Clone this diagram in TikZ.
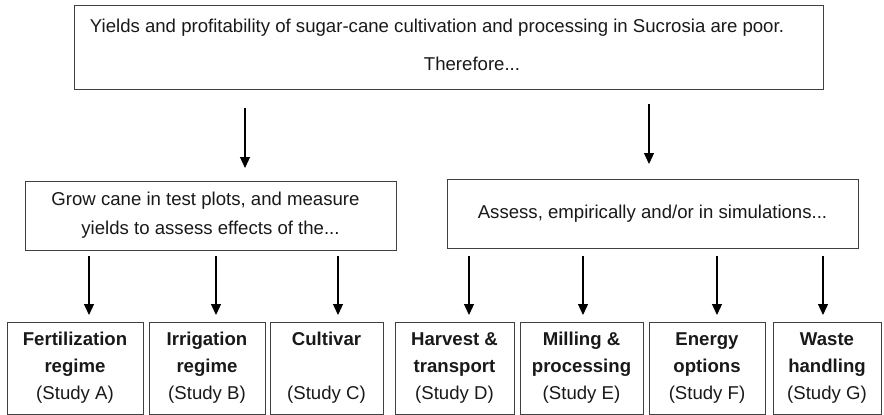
\documentclass[tikz,border=0pt]{standalone}
\usepackage{fontspec}
\setmainfont{Liberation Sans}
\usetikzlibrary{arrows.meta, calc, positioning}
\definecolor{boxgrey}{rgb}{0.25, 0.25, 0.25}
\definecolor{textgrey}{rgb}{0.1, 0.1, 0.1}

\begin{document}
\begin{tikzpicture}[
	x=1pt, y=-1pt,
	texts/.style = {text=textgrey, font=\fontsize{18.6}{27}\selectfont},
	boxline/.style = {draw=boxgrey, line width=1pt},
	stepbox/.style = {texts, boxline, rectangle, inner sep=0pt, outer sep=0pt, align=center},
	studybox/.style = {stepbox, minimum width=#1, minimum height=92pt},
	arrowline/.style = {draw=black, line width=1.2pt, -{Triangle[width=10pt, length=11pt]}}
]
	\useasboundingbox (0,0) rectangle (884,415);

	% problem and what follows from it
	\node[stepbox, minimum width=749pt, minimum height=84pt] (problem) at (448.5,47) {};
	\node[texts] (problemtext) at (437,28) {Yields and profitability of sugar-cane cultivation and processing in Sucrosia are poor.};
	\node[texts] (therefore) at (472,64) {Therefore...};

	\node[stepbox, minimum width=371pt, minimum height=69pt] (grow) at (210.5,215.5) {Grow cane in test plots, and measure\hspace*{10pt}\\[2pt]yields to assess effects of the...};
	\node[stepbox, minimum width=411pt, minimum height=69pt] (assess) at (652.5,213.5) {Assess, empirically and/or in simulations...};

	% the seven studies
	\node[studybox=136pt, anchor=west] (studya) at (7,368) {\textbf{Fertilization}\\\textbf{regime}\\(Study A)};
	\node[studybox=116pt, right=6pt of studya] (studyb) {\textbf{Irrigation}\\\textbf{regime}\\(Study B)};
	\node[studybox=113pt, right=5pt of studyb] (studyc) {\textbf{Cultivar}\\[27pt](Study C)};
	\node[studybox=119pt, right=12pt of studyc] (studyd) {\textbf{Harvest \&}\\\textbf{transport}\\(Study D)};
	\node[studybox=123pt, right=6pt of studyd] (studye) {\textbf{Milling \&}\\\textbf{processing}\\(Study E)};
	\node[studybox=116pt, right=6pt of studye] (studyf) {\textbf{Energy}\\\textbf{options}\\(Study F)};
	\node[studybox=108pt, right=8pt of studyf] (studyg) {\textbf{Waste}\\\textbf{handling}\\(Study G)};

	\draw[arrowline] ($(problem.south)+(-203.5,19)$) -- ($(grow.north)+(34.5,-13)$);
	\draw[arrowline] ($(problem.south)+(200.5,15)$) -- ($(assess.north)+(-3.5,-15)$);

	\draw[arrowline] ($(grow.south)+(-121.5,6)$) -- ($(studya.north)+(14,-7)$);
	\draw[arrowline] ($(grow.south)+(5.5,6)$) -- ($(studyb.north)+(9,-7)$);
	\draw[arrowline] ($(grow.south)+(127.5,6)$) -- ($(studyc.north)+(11.5,-7)$);

	\draw[arrowline] ($(assess.south)+(-183.5,8)$) -- ($(studyd.north)+(14.5,-7)$);
	\draw[arrowline] ($(assess.south)+(-69.5,8)$) -- ($(studye.north)+(1.5,-7)$);
	\draw[arrowline] ($(assess.south)+(64.5,8)$) -- ($(studyf.north)+(10,-7)$);
	\draw[arrowline] ($(assess.south)+(170.5,8)$) -- ($(studyg.north)+(-4,-7)$);
\end{tikzpicture}
\end{document}
